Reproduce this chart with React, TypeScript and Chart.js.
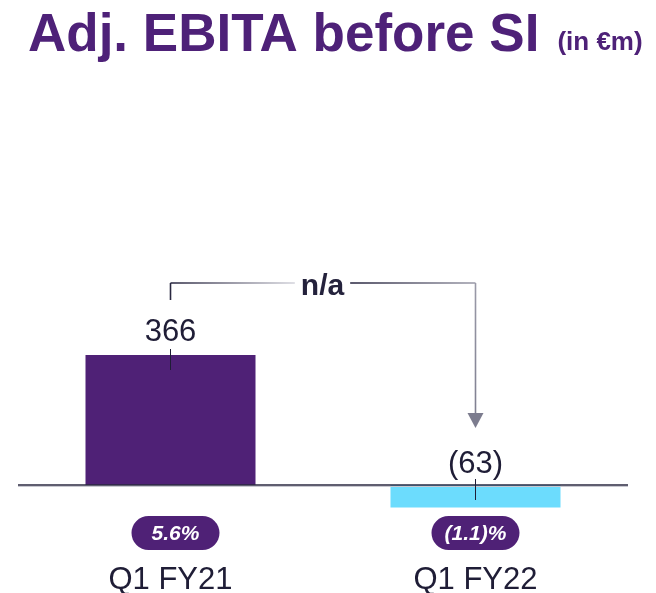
import React, { useEffect, useRef } from "react";
import { Chart, registerables } from "chart.js";

Chart.register(...registerables);

const categories = ["Q1 FY21", "Q1 FY22"];
const values = [366, -63];
const valueLabels = ["366", "(63)"];
const marginLabels = ["5.6%", "(1.1)%"];
const changeLabel = "n/a";
const titleText = "Adj. EBITA before SI";
const unitText = "(in €m)";

const PURPLE = "#4f2176";
const CYAN = "#6cdcfd";
const DARK = "#1f1d36";
const FONT = "'Liberation Sans', Arial, sans-serif";

const W = 656;
const H = 593;
const PAD = { left: 18, right: 28, top: 95, bottom: 33 };
const ZERO_Y = 485;
const PX_PER_UNIT = 130 / 366;
const Y_MAX = (ZERO_Y - PAD.top) / PX_PER_UNIT;
const Y_MIN = -((H - PAD.bottom) - ZERO_Y) / PX_PER_UNIT;
const PILL_DX = [5, 0];

function roundRect(ctx: CanvasRenderingContext2D, x: number, y: number, w: number, h: number, r: number) {
  ctx.beginPath();
  ctx.moveTo(x + r, y);
  ctx.lineTo(x + w - r, y);
  ctx.arc(x + w - r, y + r, r, -Math.PI / 2, 0);
  ctx.lineTo(x + w, y + h - r);
  ctx.arc(x + w - r, y + h - r, r, 0, Math.PI / 2);
  ctx.lineTo(x + r, y + h);
  ctx.arc(x + r, y + h - r, r, Math.PI / 2, Math.PI);
  ctx.lineTo(x, y + r);
  ctx.arc(x + r, y + r, r, Math.PI, Math.PI * 1.5);
  ctx.closePath();
}

const overlay = {
  id: "overlay",
  afterDatasetsDraw(chart: any) {
    const ctx: CanvasRenderingContext2D = chart.ctx;
    const xs = chart.scales.x;
    const ys = chart.scales.y;
    const area = chart.chartArea;
    const zero = ys.getPixelForValue(0);
    ctx.save();

    // title
    ctx.fillStyle = "#4e2178";
    ctx.textBaseline = "alphabetic";
    ctx.textAlign = "left";
    ctx.font = `bold 53px ${FONT}`;
    ctx.fillText(titleText, 28, 51);
    const tw = ctx.measureText(titleText).width;
    ctx.font = `bold 26px ${FONT}`;
    ctx.fillText(unitText, Math.max(28 + tw + 18, 556), 50);

    // baseline
    ctx.strokeStyle = "#2a2840";
    ctx.lineWidth = 1.5;
    ctx.beginPath();
    ctx.moveTo(area.left, zero);
    ctx.lineTo(area.right, zero);
    ctx.stroke();
    ctx.strokeStyle = "#c8c8d0";
    ctx.lineWidth = 1;
    ctx.beginPath();
    ctx.moveTo(area.left, zero + 1.5);
    ctx.lineTo(area.right, zero + 1.5);
    ctx.stroke();

    const anchors: number[] = [];
    const centers: number[] = [];
    values.forEach((v, i) => {
      const cx = xs.getPixelForValue(i);
      const anchor = v >= 0 ? ys.getPixelForValue(v) : zero;
      centers.push(cx);
      anchors.push(anchor);
      // value label
      ctx.fillStyle = DARK;
      ctx.font = `31px ${FONT}`;
      ctx.textAlign = "center";
      ctx.fillText(valueLabels[i], cx, anchor - (v >= 0 ? 14 : 12));
      // tick
      ctx.strokeStyle = DARK;
      ctx.lineWidth = 1;
      ctx.beginPath();
      ctx.moveTo(cx, anchor - 6);
      ctx.lineTo(cx, anchor + 15);
      ctx.stroke();
      // margin pill
      const py = zero + 48;
      const px = cx + PILL_DX[i];
      ctx.fillStyle = PURPLE;
      roundRect(ctx, px - 44, py - 17, 88, 34, 17);
      ctx.fill();
      ctx.fillStyle = "#ffffff";
      ctx.font = `italic bold 21px ${FONT}`;
      ctx.textBaseline = "middle";
      ctx.fillText(marginLabels[i], px, py + 1);
      ctx.textBaseline = "alphabetic";
      // category label
      ctx.fillStyle = DARK;
      ctx.font = `31px ${FONT}`;
      ctx.fillText(categories[i], cx, 589);
    });

    // bracket
    const lineY = 283;
    const x1 = centers[0];
    const x2 = centers[1];
    ctx.lineWidth = 1.6;
    ctx.strokeStyle = "#2a2840";
    ctx.beginPath();
    ctx.moveTo(x1, 300);
    ctx.lineTo(x1, lineY);
    ctx.stroke();
    ctx.font = `bold 30px ${FONT}`;
    ctx.textAlign = "center";
    const mid = (x1 + x2) / 2 - 0.5;
    const nw = ctx.measureText(changeLabel).width;
    const g1 = ctx.createLinearGradient(x1, 0, mid - nw / 2 - 6, 0);
    g1.addColorStop(0, "#24223c");
    g1.addColorStop(1, "#d4d4dc");
    ctx.strokeStyle = g1;
    ctx.beginPath();
    ctx.moveTo(x1, lineY);
    ctx.lineTo(mid - nw / 2 - 6, lineY);
    ctx.stroke();
    const g2 = ctx.createLinearGradient(mid + nw / 2 + 6, 0, x2, 0);
    g2.addColorStop(0, "#24223c");
    g2.addColorStop(1, "#9a9aa8");
    ctx.strokeStyle = g2;
    ctx.beginPath();
    ctx.moveTo(mid + nw / 2 + 6, lineY);
    ctx.lineTo(x2, lineY);
    ctx.stroke();
    const tipY = anchors[1] - 57;
    const g3 = ctx.createLinearGradient(0, lineY, 0, tipY);
    g3.addColorStop(0, "#9a9aa8");
    g3.addColorStop(1, "#7c7c8e");
    ctx.strokeStyle = g3;
    ctx.beginPath();
    ctx.moveTo(x2, lineY);
    ctx.lineTo(x2, tipY - 12);
    ctx.stroke();
    ctx.fillStyle = "#7c7c8e";
    ctx.beginPath();
    ctx.moveTo(x2 - 8, tipY - 15);
    ctx.lineTo(x2 + 8, tipY - 15);
    ctx.lineTo(x2, tipY);
    ctx.closePath();
    ctx.fill();
    ctx.fillStyle = "#24223c";
    ctx.fillText(changeLabel, mid, lineY + 12);

    ctx.restore();
  },
};

export default function App() {
  const ref = useRef<HTMLCanvasElement>(null);
  useEffect(() => {
    if (!ref.current) return;
    const chart = new Chart(ref.current, {
      type: "bar",
      data: {
        labels: categories,
        datasets: [
          {
            data: values,
            backgroundColor: [PURPLE, CYAN],
            borderWidth: 0,
            categoryPercentage: 1,
            barPercentage: 170 / 305,
          },
        ],
      },
      options: {
        animation: false,
        responsive: false,
        maintainAspectRatio: false,
        layout: { padding: PAD },
        plugins: { legend: { display: false }, tooltip: { enabled: false }, title: { display: false } },
        scales: {
          x: { display: false },
          y: { display: false, min: Y_MIN, max: Y_MAX },
        },
      },
      plugins: [overlay],
    });
    return () => chart.destroy();
  }, []);
  return (
    <div style={{ position: "fixed", left: 0, top: 0, width: W, height: H, background: "#fff" }}>
      <canvas ref={ref} width={W} height={H} style={{ width: W, height: H, display: "block" }} />
    </div>
  );
}
